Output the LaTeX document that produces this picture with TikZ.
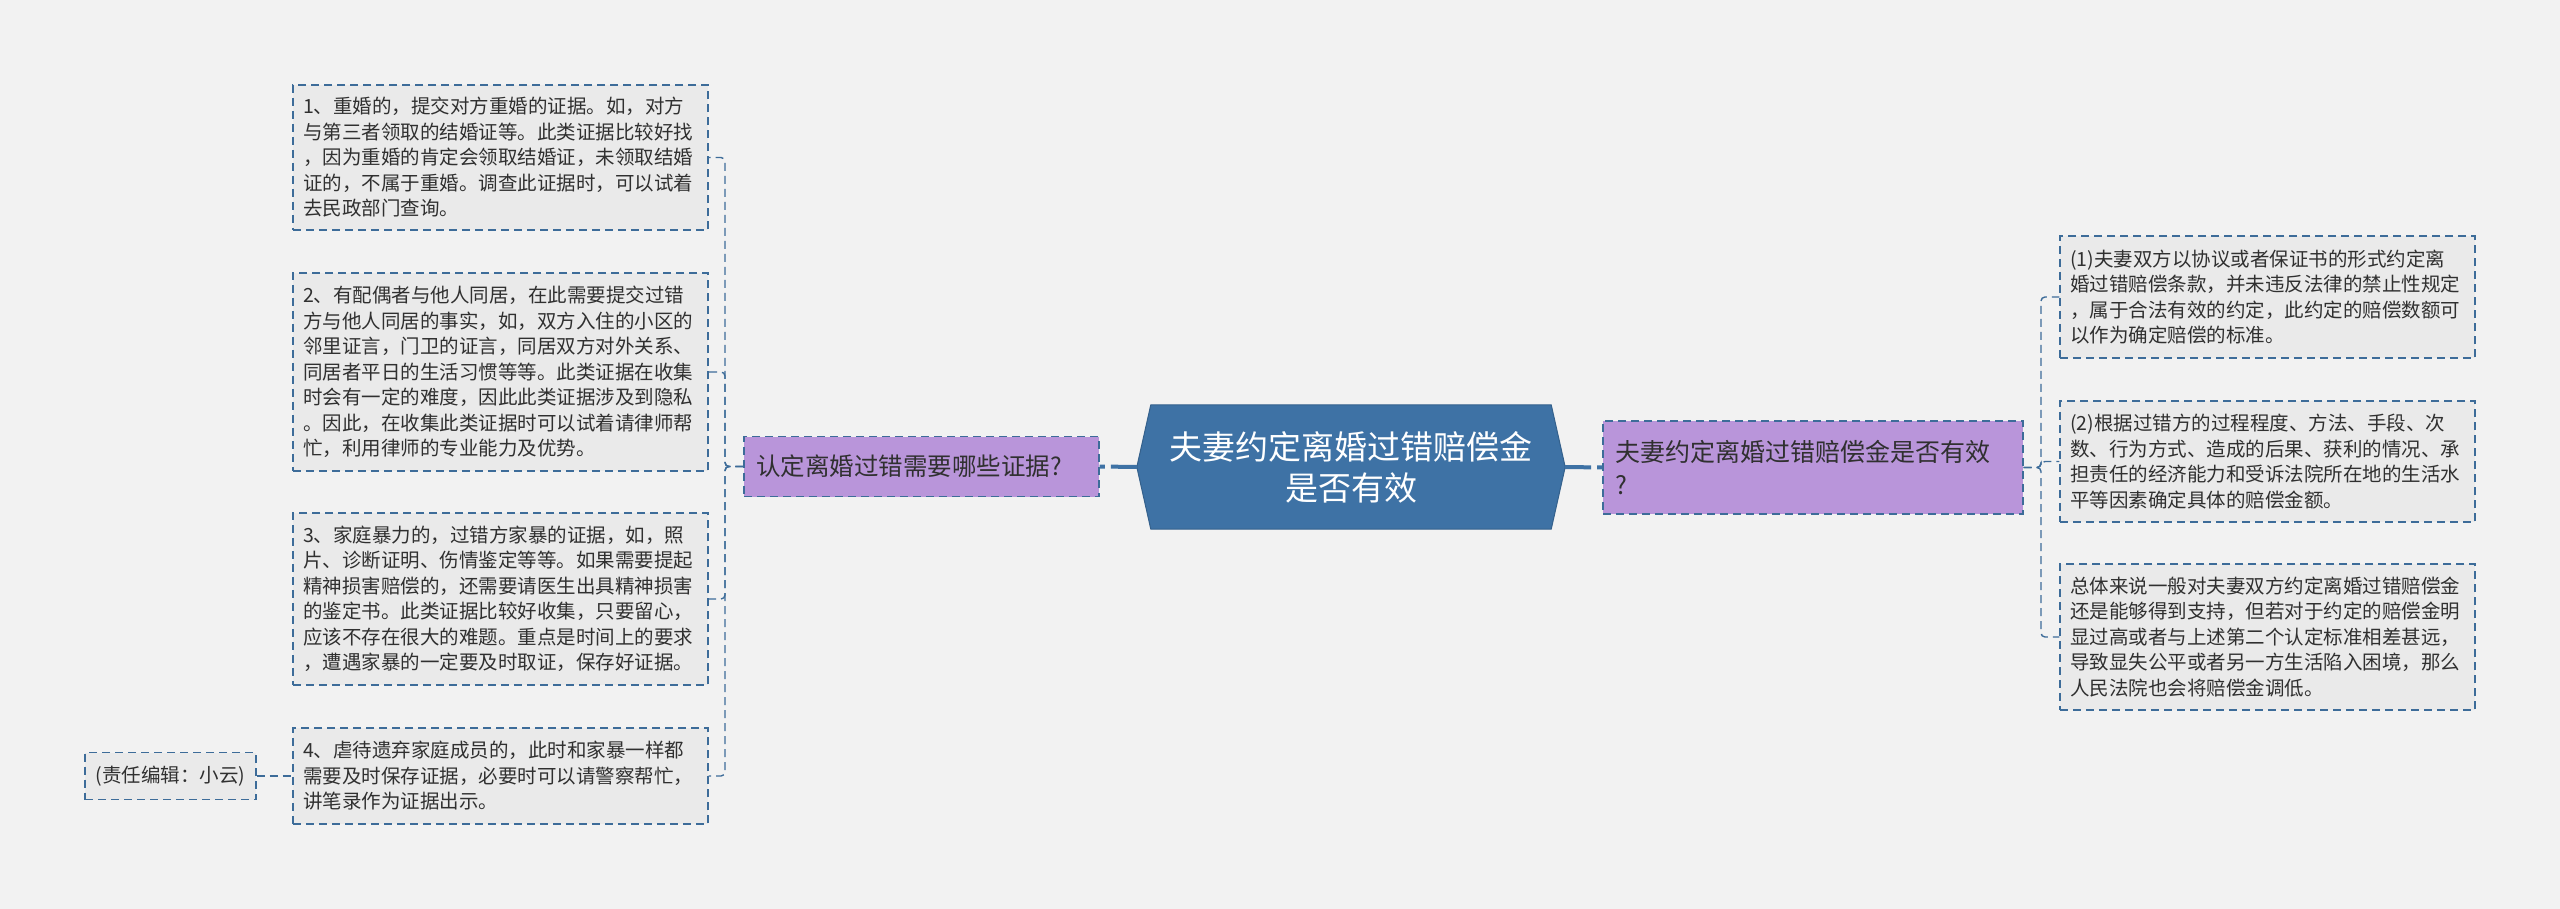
\documentclass[tikz,border=0pt]{standalone}
\usepackage{fontspec}
\setmainfont{Noto Sans CJK SC}
\definecolor{bg}{HTML}{F2F2F2}
\definecolor{edge}{HTML}{3D6C99}
\definecolor{boxfill}{HTML}{EAEAEA}
\definecolor{purp}{HTML}{B995DA}
\definecolor{hexfill}{HTML}{3E72A5}
\definecolor{txt}{HTML}{303030}
\pgfdeclarelayer{backmost}
\pgfdeclarelayer{back}
\pgfsetlayers{backmost,back,main}
\begin{document}
\begin{tikzpicture}[x=1pt,y=-1pt,
  dashline/.style={draw=edge, line width=1.4pt, dash pattern=on 8pt off 5pt},
  textbox/.style={dashline, fill=boxfill, inner xsep=10pt, inner ysep=0pt,
    align=left, text=txt, font=\fontsize{19.5}{25.5}\selectfont, anchor=center},
  leftbox/.style={textbox, text width=395pt},
  purpbox/.style={dashline, fill=purp, inner xsep=12pt, inner ysep=0pt,
    align=left, text=txt, anchor=center},
  hexnode/.style={inner sep=0pt, minimum width=428pt, minimum height=124pt,
    align=center, text=white, font=\fontsize{33}{41}\selectfont},
  hexshape/.style={fill=hexfill, draw=hexfill!85!black, line width=1pt},
  conn/.style={dashline, rounded corners=4pt},
  thickconn/.style={draw=hexfill, line width=4pt, dash pattern=on 26pt off 6pt}
]
\begin{pgfonlayer}{backmost}
\fill[bg] (0,0) rectangle (2560,909);
\end{pgfonlayer}
\useasboundingbox (0,0) rectangle (2560,909);

% left boxes
\node[leftbox, minimum height=145pt] (b1) at (500.5,157.5) {1、重婚的，提交对方重婚的证据。如，对方\\与第三者领取的结婚证等。此类证据比较好找\\，因为重婚的肯定会领取结婚证，未领取结婚\\证的，不属于重婚。调查此证据时，可以试着\\去民政部门查询。};
\node[leftbox, minimum height=198pt] (b2) at (500.5,372) {2、有配偶者与他人同居，在此需要提交过错\\方与他人同居的事实，如，双方入住的小区的\\邻里证言，门卫的证言，同居双方对外关系、\\同居者平日的生活习惯等等。此类证据在收集\\时会有一定的难度，因此此类证据涉及到隐私\\。因此，在收集此类证据时可以试着请律师帮\\忙，利用律师的专业能力及优势。};
\node[leftbox, minimum height=172pt] (b3) at (500.5,599) {3、家庭暴力的，过错方家暴的证据，如，照\\片、诊断证明、伤情鉴定等等。如果需要提起\\精神损害赔偿的，还需要请医生出具精神损害\\的鉴定书。此类证据比较好收集，只要留心，\\应该不存在很大的难题。重点是时间上的要求\\，遭遇家暴的一定要及时取证，保存好证据。};
\node[leftbox, minimum height=96pt] (b4) at (500.5,776) {4、虐待遗弃家庭成员的，此时和家暴一样都\\需要及时保存证据，必要时可以请警察帮忙，\\讲笔录作为证据出示。};
\node[textbox, minimum width=171pt, minimum height=47pt] (ed) at (170.5,776) {(责任编辑：小云)};

% purple nodes
\node[purpbox, text width=331pt, minimum height=60pt, font=\fontsize{24.5}{32}\selectfont] (lp) at (921.5,466.5) {认定离婚过错需要哪些证据?};
\node[purpbox, text width=396pt, minimum height=93pt, font=\fontsize{25}{33}\selectfont] (rp) at (1813,467.5) {夫妻约定离婚过错赔偿金是否有效\\?};

% center hexagon
\node[hexnode] (hex) at (1351,467) {夫妻约定离婚过错赔偿金\\是否有效};
\begin{pgfonlayer}{back}
\draw[hexshape] (hex.west) -- ([xshift=14pt]hex.north west) -- ([xshift=-14pt]hex.north east)
  -- (hex.east) -- ([xshift=-14pt]hex.south east) -- ([xshift=14pt]hex.south west) -- cycle;
\end{pgfonlayer}

% right boxes
\node[leftbox, minimum height=122pt] (r1) at (2267.5,297) {(1)夫妻双方以协议或者保证书的形式约定离\\婚过错赔偿条款，并未违反法律的禁止性规定\\，属于合法有效的约定，此约定的赔偿数额可\\以作为确定赔偿的标准。};
\node[leftbox, minimum height=121pt] (r2) at (2267.5,461.5) {(2)根据过错方的过程程度、方法、手段、次\\数、行为方式、造成的后果、获利的情况、承\\担责任的经济能力和受诉法院所在地的生活水\\平等因素确定具体的赔偿金额。};
\node[leftbox, minimum height=146pt] (r3) at (2267.5,637) {总体来说一般对夫妻双方约定离婚过错赔偿金\\还是能够得到支持，但若对于约定的赔偿金明\\显过高或者与上述第二个认定标准相差甚远，\\导致显失公平或者另一方生活陷入困境，那么\\人民法院也会将赔偿金调低。};

% connectors
\coordinate (lj) at (725,466.5);
\coordinate (rj) at (2041,467.5);
\begin{pgfonlayer}{back}
\draw[conn] (lp.west) -- (lj) |- (b1.east);
\draw[conn] (lp.west) -- (lj) |- (b2.east);
\draw[conn] (lp.west) -- (lj) |- (b3.east);
\draw[conn] (lp.west) -- (lj) |- (b4.east);
\draw[conn] (ed.east) -- (b4.west);
\draw[conn] (rp.east) -- (rj) |- (r1.west);
\draw[conn] (rp.east) -- (rj) |- (r2.west);
\draw[conn] (rp.east) -- (rj) |- (r3.west);
\draw[thickconn] (hex.west) -- (lp.east);
\draw[thickconn] (hex.east) -- (rp.west);
\end{pgfonlayer}
\end{tikzpicture}
\end{document}
